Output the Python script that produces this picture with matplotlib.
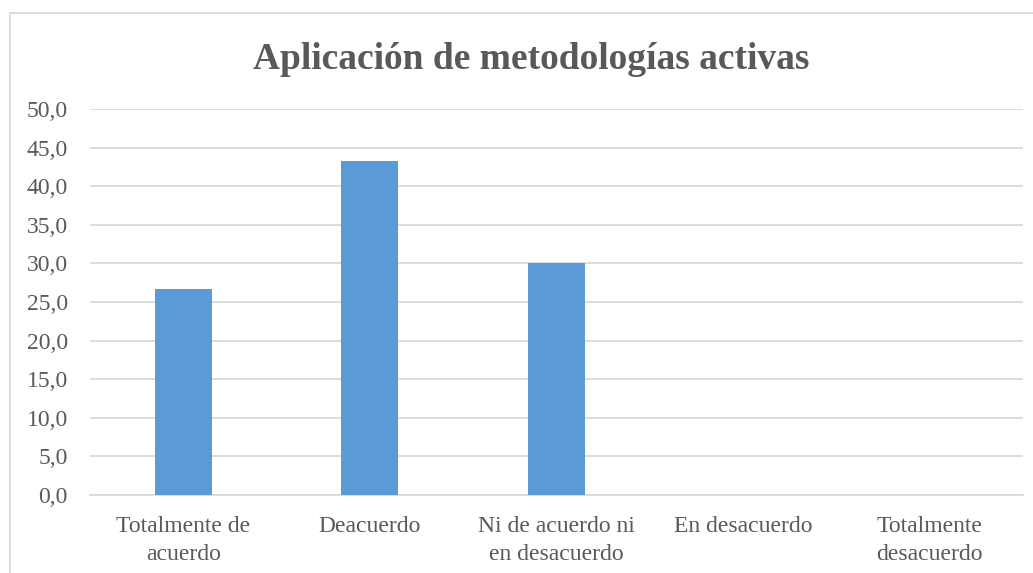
import matplotlib
matplotlib.use('Agg')
import matplotlib.pyplot as plt
from matplotlib.patches import Rectangle
from matplotlib.ticker import FuncFormatter, MultipleLocator

categorias = ["Totalmente de\nacuerdo", "Deacuerdo", "Ni de acuerdo ni\nen desacuerdo",
              "En desacuerdo", "Totalmente\ndesacuerdo"]
porcentajes = [26.7, 43.3, 30.0, 0.0, 0.0]
titulo = "Aplicación de metodologías activas"

plt.rcParams['font.family'] = ['Liberation Serif', 'DejaVu Serif']
gris_texto = '#595959'

fig = plt.figure(figsize=(10.33, 5.73), dpi=100)
ax = fig.add_axes([0.0871, 0.1361, 0.9029, 0.6737])

x = range(len(categorias))
ax.bar(x, porcentajes, width=0.306, color='#5B9BD5', zorder=3)

ax.set_xlim(-0.5, len(categorias) - 0.5)
ax.set_ylim(0, 50)
ax.yaxis.set_major_locator(MultipleLocator(5))
ax.yaxis.set_major_formatter(FuncFormatter(lambda v, p: f"{v:.1f}".replace('.', ',')))
ax.set_xticks(list(x))
ax.set_xticklabels(categorias, linespacing=1.45)

ax.grid(axis='y', color='#D9D9D9', linewidth=1.3, zorder=0)
for s in ['top', 'right', 'left']:
    ax.spines[s].set_visible(False)
ax.spines['bottom'].set_color('#D9D9D9')
ax.spines['bottom'].set_linewidth(1.3)
ax.tick_params(axis='both', length=0, labelsize=17, labelcolor=gris_texto)
ax.tick_params(axis='y', pad=16)
ax.tick_params(axis='x', pad=15)

fig.text(0.514, 0.897, titulo, ha='center', va='center', fontsize=27,
         fontweight='bold', color=gris_texto)

# marco del grafico (recortado por la derecha y abajo)
marco = Rectangle((10 / 1033, -0.1), 1.1, 1 - 13 / 573 + 0.1, transform=fig.transFigure,
                  fill=False, edgecolor='#D9D9D9', linewidth=1.3, clip_on=False)
fig.patches.append(marco)

fig.savefig('out.png', dpi=100)
plt.close()
